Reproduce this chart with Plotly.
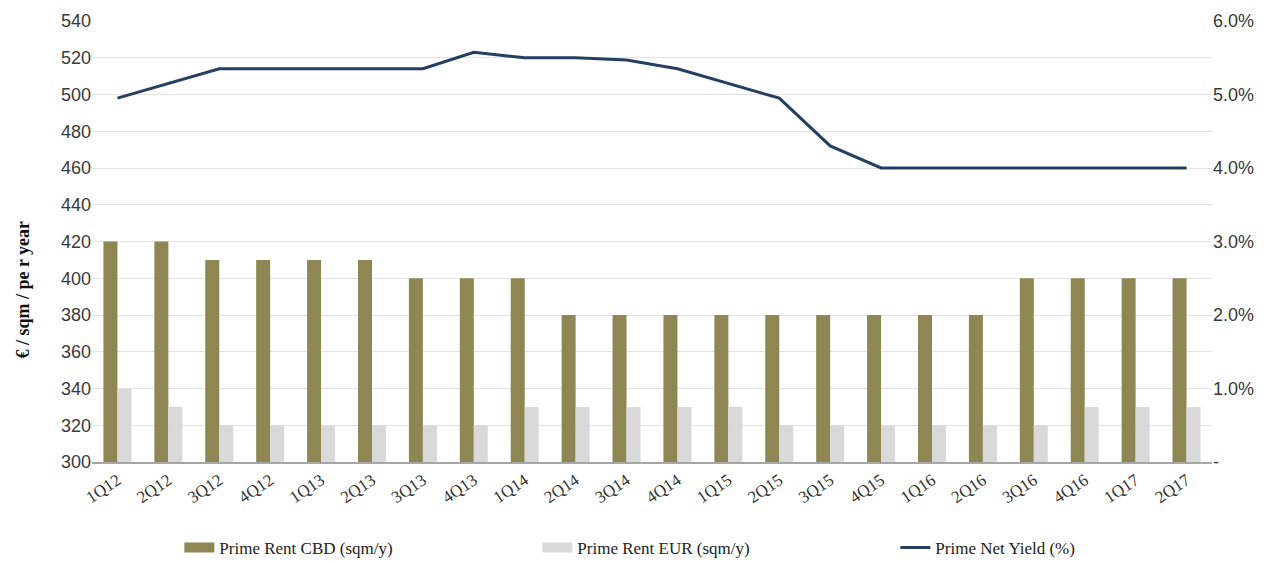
import plotly.graph_objects as go

quarters = ["1Q12","2Q12","3Q12","4Q12","1Q13","2Q13","3Q13","4Q13","1Q14","2Q14","3Q14",
            "4Q14","1Q15","2Q15","3Q15","4Q15","1Q16","2Q16","3Q16","4Q16","1Q17","2Q17"]
rent_cbd = [420,420,410,410,410,410,400,400,400,380,380,380,380,380,380,380,380,380,400,400,400,400]
rent_eur = [340,330,320,320,320,320,320,320,330,330,330,330,330,320,320,320,320,320,320,330,330,330]
net_yield = [4.95,5.15,5.35,5.35,5.35,5.35,5.35,5.575,5.5,5.5,5.47,5.35,5.15,4.95,4.3,4.0,4.0,4.0,4.0,4.0,4.0,4.0]
yield_ticks = [0,1,2,3,4,5,6]
yield_ticktext = ["-","1.0%","2.0%","3.0%","4.0%","5.0%","6.0%"]

serif = "Liberation Serif"
sans = "Liberation Sans"
c_cbd, c_eur, c_yield = "#8e8653", "#d9d9d9", "#243f60"

fig = go.Figure()
fig.add_trace(go.Bar(x=quarters, y=rent_cbd, name="Prime Rent CBD (sqm/y)", showlegend=False,
                     marker=dict(color=c_cbd, line=dict(width=0))))
fig.add_trace(go.Bar(x=quarters, y=rent_eur, name="Prime Rent EUR (sqm/y)", showlegend=False,
                     marker=dict(color=c_eur, line=dict(width=0))))
fig.add_trace(go.Scatter(x=quarters, y=net_yield, name="Prime Net Yield (%)", yaxis="y2",
                         mode="lines", line=dict(color=c_yield, width=3), showlegend=False))
# legend keys (wide swatches like the original)
for nm, col, w in [("Prime Rent CBD (sqm/y)", c_cbd, 11), ("Prime Rent EUR (sqm/y)", c_eur, 11),
                   ("Prime Net Yield (%)", c_yield, 3)]:
    fig.add_trace(go.Scatter(x=[None], y=[None], mode="lines", name=nm,
                             line=dict(color=col, width=w), showlegend=True))

fig.update_layout(
    width=1277, height=555,
    margin=dict(l=84, r=73, t=13, b=101, autoexpand=False),
    paper_bgcolor="white", plot_bgcolor="white",
    barmode="group", bargap=0.45, bargroupgap=0,
    legend=dict(orientation="h", x=0.078, xanchor="left", y=-0.195, yanchor="middle",
                font=dict(family=serif, size=17, color="#222"),
                entrywidthmode="pixels", entrywidth=313, tracegroupgap=0),
    xaxis=dict(tickangle=-34, tickfont=dict(family=serif, size=17, color="#333"),
               showline=True, linecolor="#a6a6a6", linewidth=1.5, showgrid=False, ticks=""),
    yaxis=dict(range=[300, 540], dtick=20, tick0=300,
               tickfont=dict(family=sans, size=18, color="#3a3a3a"),
               gridcolor="#e3e3e3", gridwidth=1, zeroline=False, showline=False),
    yaxis2=dict(overlaying="y", side="right", range=[0, 6], tickvals=yield_ticks,
                ticktext=yield_ticktext, showgrid=False, zeroline=False,
                tickfont=dict(family=sans, size=18, color="#3a3a3a")),
    annotations=[dict(text="<b>€ / sqm / pe r year</b>", xref="paper", yref="paper",
                      x=-0.062, y=0.39, xanchor="center", yanchor="middle", textangle=-90,
                      showarrow=False, font=dict(family=serif, size=18, color="#111"))],
)

fig.write_html("out.html")
